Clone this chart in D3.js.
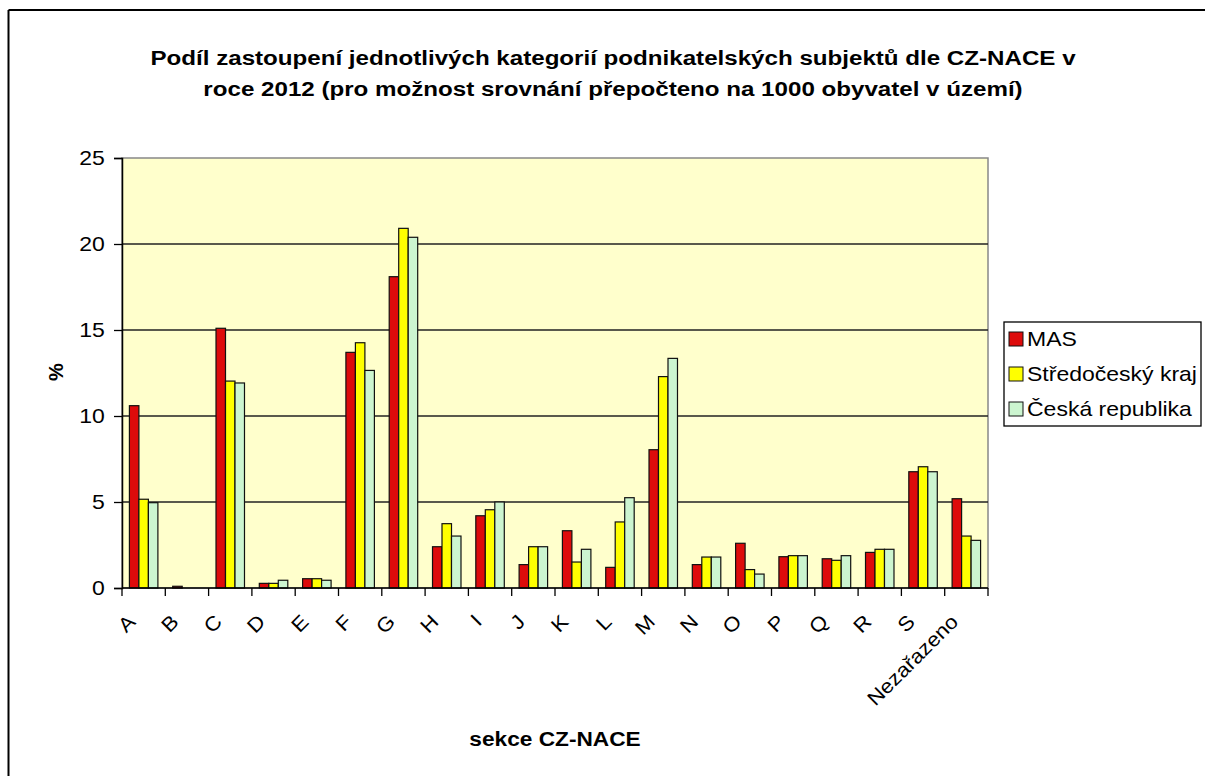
<!DOCTYPE html>
<html>
<head>
<meta charset="utf-8">
<script src="https://cdn.jsdelivr.net/npm/d3@7"></script>
<style>
  body { margin: 0; background: #fff; }
  text { font-family: "Liberation Sans", Arial, sans-serif; fill: #000; }
</style>
</head>
<body>
<div id="chart"></div>
<script>
// categories and series
var categories = ["A","B","C","D","E","F","G","H","I","J","K","L","M","N","O","P","Q","R","S","Nezařazeno"];
var seriesNames = ["MAS", "Středočeský kraj", "Česká republika"];
var seriesColors = ["#dd0b0b", "#ffff00", "#ccf5d0"];
var mas      = [10.6, 0.1, 15.1, 0.27, 0.54, 13.7, 18.1, 2.4, 4.2, 1.36, 3.33, 1.2, 8.04, 1.36, 2.6, 1.82, 1.7, 2.07, 6.76, 5.19];
var stredo   = [5.16, 0, 12.03, 0.27, 0.54, 14.26, 20.91, 3.74, 4.55, 2.4, 1.51, 3.84, 12.29, 1.8, 1.07, 1.88, 1.61, 2.25, 7.05, 3.02];
var cr       = [4.96, 0, 11.92, 0.45, 0.45, 12.65, 20.39, 3.02, 5.0, 2.4, 2.25, 5.25, 13.35, 1.8, 0.81, 1.88, 1.88, 2.25, 6.76, 2.77];
var yTicks = [0, 5, 10, 15, 20, 25];
var titleLines = ["Podíl zastoupení jednotlivých kategorií podnikatelských subjektů dle CZ-NACE v",
                  "roce 2012 (pro možnost srovnání přepočteno na 1000 obyvatel v území)"];

var width = 1205, height = 776;
var marginLeft = 122, plotRight = 988, plotTop = 158, plotBottom = 588;
// the original text is a bit wider than Liberation Sans
var sx = 1.15;

var svg = d3.select("#chart").append("svg")
    .attr("width", width)
    .attr("height", height);

// outer frame (only top and left visible in the picture)
svg.append("line").attr("x1", 8.5).attr("x2", width).attr("y1", 10).attr("y2", 10)
    .attr("stroke", "#000").attr("stroke-width", 2);
svg.append("line").attr("x1", 8.5).attr("x2", 8.5).attr("y1", 10).attr("y2", height)
    .attr("stroke", "#000").attr("stroke-width", 2);

// scales
var x0 = d3.scaleBand().domain(categories).range([marginLeft, plotRight]).padding(0);
var x1 = d3.scaleBand().domain(seriesNames).range([0, x0.bandwidth()]).paddingInner(0).paddingOuter(0.78);
var yScale = d3.scaleLinear().domain([0, 25]).range([plotBottom, plotTop]);

// plot background
svg.append("rect")
    .attr("x", marginLeft).attr("y", plotTop)
    .attr("width", plotRight - marginLeft).attr("height", plotBottom - plotTop)
    .attr("fill", "#ffffcc")
    .attr("stroke", "#888").attr("stroke-width", 1.5);

// gridlines
svg.append("g").selectAll("line")
    .data(yTicks.filter(function(d){ return d > 0 && d < 25; }))
    .enter().append("line")
    .attr("x1", marginLeft).attr("x2", plotRight)
    .attr("y1", function(d){ return yScale(d); })
    .attr("y2", function(d){ return yScale(d); })
    .attr("stroke", "#222").attr("stroke-width", 1.3);

// bars
var rows = categories.map(function(c, i){
    return { cat: c, vals: [mas[i], stredo[i], cr[i]] };
});
var groups = svg.append("g").selectAll("g")
    .data(rows).enter().append("g")
    .attr("transform", function(d){ return "translate(" + x0(d.cat) + ",0)"; });
groups.selectAll("rect")
    .data(function(d){ return d.vals.map(function(v, j){ return { s: seriesNames[j], v: v, j: j }; }); })
    .enter().append("rect")
    .filter(function(d){ return d.v > 0; })
    .attr("x", function(d){ return x1(d.s); })
    .attr("y", function(d){ return yScale(d.v); })
    .attr("width", x1.bandwidth())
    .attr("height", function(d){ return plotBottom - yScale(d.v); })
    .attr("fill", function(d){ return seriesColors[d.j]; })
    .attr("stroke", "#111").attr("stroke-width", 1.2);

// y axis
var yAxis = d3.axisLeft(yScale).tickValues(yTicks).tickSize(8).tickPadding(7);
var gy = svg.append("g")
    .attr("transform", "translate(" + marginLeft + ",0)")
    .call(yAxis);
gy.select(".domain").attr("stroke", "#000").attr("stroke-width", 1.5);
gy.selectAll(".tick line").attr("stroke", "#000").attr("stroke-width", 1.3);
gy.selectAll(".tick text")
    .attr("transform", "scale(" + sx + ",1)")
    .style("font-size", "20px").style("font-family", "Liberation Sans, Arial, sans-serif");

// x axis: ticks at category boundaries
var gx = svg.append("g");
gx.append("line").attr("x1", marginLeft).attr("x2", plotRight)
    .attr("y1", plotBottom).attr("y2", plotBottom)
    .attr("stroke", "#000").attr("stroke-width", 1.5);
gx.selectAll("line.tk")
    .data(categories.concat(["end"]))
    .enter().append("line").attr("class", "tk")
    .attr("x1", function(d, i){ return marginLeft + i * x0.step(); })
    .attr("x2", function(d, i){ return marginLeft + i * x0.step(); })
    .attr("y1", plotBottom).attr("y2", plotBottom + 8)
    .attr("stroke", "#000").attr("stroke-width", 1.3);
gx.selectAll("text")
    .data(categories)
    .enter().append("text")
    .attr("transform", function(d){
        var cx = x0(d) + x0.bandwidth() / 2 - 7;
        return "translate(" + cx + "," + (plotBottom + 35) + ") rotate(-45) scale(1.1,1)";
    })
    .attr("text-anchor", "end")
    .style("font-size", "20px")
    .text(function(d){ return d; });

// title
svg.append("g").selectAll("text")
    .data(titleLines).enter().append("text")
    .attr("transform", function(d, i){ return "translate(613," + (65 + i * 31) + ") scale(" + sx + ",1)"; })
    .attr("text-anchor", "middle")
    .style("font-size", "21px").style("font-weight", "bold")
    .text(function(d){ return d; });

// axis titles
svg.append("text")
    .attr("transform", "translate(63,372) rotate(-90)")
    .attr("text-anchor", "middle")
    .style("font-size", "20px").style("font-weight", "bold")
    .text("%");
svg.append("text")
    .attr("transform", "translate(555,746) scale(1.08,1)")
    .attr("text-anchor", "middle")
    .style("font-size", "21px").style("font-weight", "bold")
    .text("sekce CZ-NACE");

// legend
var legend = svg.append("g");
legend.append("rect")
    .attr("x", 1004).attr("y", 322).attr("width", 197).attr("height", 104)
    .attr("fill", "#fff").attr("stroke", "#000").attr("stroke-width", 1.3);
var items = legend.selectAll("g.item")
    .data(seriesNames).enter().append("g").attr("class", "item")
    .attr("transform", function(d, i){ return "translate(1009," + (339 + i * 35) + ")"; });
items.append("rect")
    .attr("x", 0).attr("y", -7).attr("width", 14).attr("height", 14)
    .attr("fill", function(d, i){ return seriesColors[i]; })
    .attr("stroke", "#111").attr("stroke-width", 1);
items.append("text")
    .attr("transform", "translate(18,7) scale(" + sx + ",1)")
    .style("font-size", "20px")
    .text(function(d){ return d; });
</script>
</body>
</html>
